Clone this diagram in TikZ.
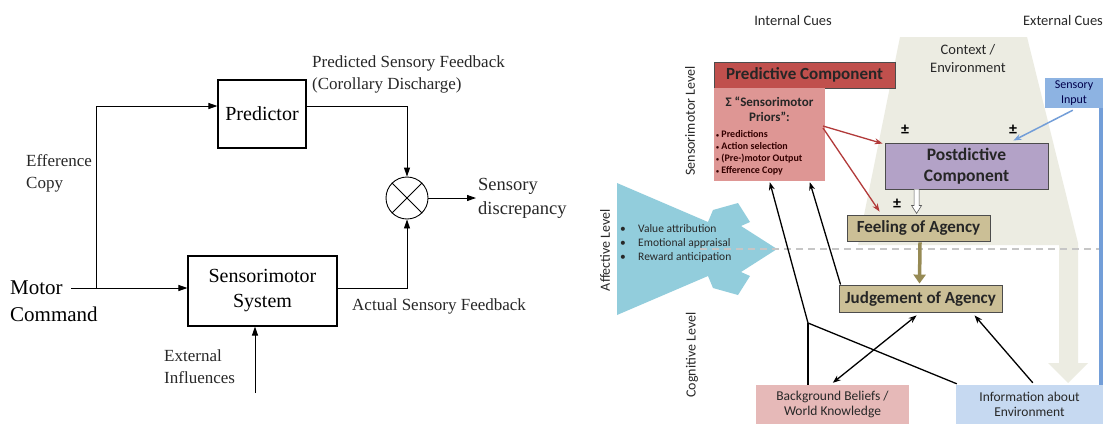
\documentclass[tikz,border=0pt]{standalone}
\usepackage{fontspec}
\setmainfont{Liberation Serif}
\newfontfamily\crl{Carlito}
\usetikzlibrary{arrows.meta,calc}
\definecolor{predred}{RGB}{192,80,77}
\definecolor{prirose}{RGB}{222,150,148}
\definecolor{postlav}{RGB}{179,162,199}
\definecolor{agtan}{RGB}{203,191,150}
\definecolor{bbpink}{RGB}{230,185,184}
\definecolor{infoblue}{RGB}{198,217,241}
\definecolor{sinblue}{RGB}{141,179,226}
\definecolor{sinline}{RGB}{115,158,216}
\definecolor{redarr}{RGB}{178,58,58}
\definecolor{olivearr}{RGB}{150,138,84}
\definecolor{ctxbeige}{RGB}{236,236,226}
\definecolor{afblue}{RGB}{146,205,220}
\definecolor{txtdark}{RGB}{40,40,40}
\begin{document}
\begin{tikzpicture}[x=1pt,y=-1pt,
  lbox/.style={draw, line width=1.1pt, font=\fontsize{20}{25}\selectfont, align=center, inner sep=0pt},
  llab/.style={font=\fontsize{17}{22}\selectfont, align=left, inner sep=0pt, text=txtdark},
  larr/.style={line width=0.9pt, -{Triangle[length=9pt,width=6pt]}},
  rbox/.style={draw=black!70, line width=0.9pt, font=\crl\bfseries\fontsize{17}{20}\selectfont, align=center, inner sep=0pt, text=black!85},
  rlab/.style={font=\crl\fontsize{14.5}{17}\selectfont, text=txtdark, inner sep=0pt, align=center},
  lvl/.style={rlab, rotate=90, font=\crl\fontsize{14}{16}\selectfont},
  blk/.style={line width=1.3pt, black},
  blkarr/.style={blk, -{Stealth[length=8pt,width=6pt]}},
  redline/.style={line width=1.3pt, redarr, -{Stealth[length=8pt,width=6pt]}},
  pm/.style={font=\crl\bfseries\fontsize{16}{16}\selectfont, inner sep=0pt}
]
\useasboundingbox (0,0) rectangle (1107,424);
\fill[white] (0,0) rectangle (1107,424);

% ================= LEFT DIAGRAM =================
\node[lbox, minimum width=88pt, minimum height=68pt] (pred) at (262,114) {Predictor};
\node[lbox, minimum width=149pt, minimum height=70pt] (sms) at (262.5,291) {Sensorimotor\\System};
\node[draw, circle, line width=0.9pt, minimum size=42pt, inner sep=0pt] (circ) at (407,198) {};
\draw[line width=0.9pt] (circ.north west) -- (circ.south east);
\draw[line width=0.9pt] (circ.north east) -- (circ.south west);

\node[anchor=west, inner sep=0pt, align=left, font=\fontsize{21}{27}\selectfont] (mc) at (10,301) {Motor\\Command};
\node[llab, anchor=west] (eff) at (26,173) {Efference\\Copy};
\node[llab, anchor=north west] (psf) at (312,55) {Predicted Sensory Feedback\\(Corollary Discharge)};
\node[llab, anchor=north west] (asf) at (352,298) {Actual Sensory Feedback};
\node[llab, anchor=west, font=\fontsize{18.5}{24}\selectfont] (sdl) at (478,198) {Sensory\\discrepancy};
\node[llab, anchor=west] (ext) at (164,367) {External\\Influences};

\coordinate (mcout) at (71,288);
\coordinate (ej) at (96,288);
\coordinate (pin) at (0,106);
\coordinate (extin) at (255,393);

\draw[larr] (mcout) -- (sms.west |- mcout);
\draw[larr] (ej) |- (pred.west |- pin);
\draw[larr] (pred.east |- pin) -| (circ.north);
\draw[larr] (sms.east |- mcout) -| (circ.south);
\draw[larr] (circ.east) -- ([xshift=-2pt]sdl.west);
\draw[larr] (extin) -- (sms.south -| extin);

% ================= RIGHT DIAGRAM =================
% context / environment beige shape
\fill[ctxbeige] (900,37) -- (1027,37) -- (1078,243) -- (1078,363) -- (1088,363) -- (1068,383)
  -- (1048,363) -- (1059,363) -- (1059,245) -- (858,245) -- cycle;
\node[rlab, font=\crl\fontsize{14.5}{18}\selectfont] (ctx) at (968,59) {Context /\\Environment};

% affective blue shape
\fill[afblue] (617,183) -- (708,222) -- (713,210) -- (738,203) -- (750,222) -- (741,226) -- (777,249)
  -- (741,272) -- (750,276) -- (738,295) -- (713,288) -- (708,276) -- (617,315) -- cycle;

% dashed level separator
\draw[gray!45, line width=1.2pt, dash pattern=on 7pt off 5pt] (700,249) -- (1107,249);

\node[font=\crl\fontsize{11.5}{14}\selectfont, text=txtdark, align=left, inner sep=0pt, anchor=west] (afl) at (620,243)
  {\makebox[18pt][l]{•}Value attribution\\\makebox[18pt][l]{•}Emotional appraisal\\\makebox[18pt][l]{•}Reward anticipation};

% headers and level labels
\node[rlab] (ic) at (793,21) {Internal Cues};
\node[rlab] (ec) at (1063,21) {External Cues};
\node[lvl] (sml) at (690,121) {Sensorimotor Level};
\node[lvl] (afv) at (605,250) {Affective Level};
\node[lvl] (cgl) at (692,355) {Cognitive Level};

% sensory input
\node[fill=sinblue, minimum width=58pt, minimum height=30pt, inner sep=0pt, font=\crl\fontsize{12}{15}\selectfont, text=black!70!blue, align=center] (si) at (1074,93) {Sensory\\Input};
\draw[sinline, line width=3.5pt] (si.south east) ++(-2,0) coordinate (sil) -- (sil |- 0,386) coordinate (silend);

% boxes
\node[rbox, fill=predred, minimum width=181pt, minimum height=26pt] (pc) at (804.5,75) {Predictive Component};
\node[fill=prirose, minimum width=111pt, minimum height=93pt, inner sep=0pt] (pri) at (769.5,134.5) {};
\node[font=\crl\bfseries\fontsize{13}{15}\selectfont, align=center, inner sep=0pt, text=black!85] (prih) at (769.5,109.5) {Σ “Sensorimotor\\Priors”:};
\node[font=\crl\bfseries\fontsize{10}{12}\selectfont, align=left, inner sep=0pt, anchor=north west, text=black!80!red] (pril) at (716,130)
  {{\fontsize{6}{6}\selectfont•} Predictions\\{\fontsize{6}{6}\selectfont•} Action selection\\{\fontsize{6}{6}\selectfont•} (Pre-)motor Output\\{\fontsize{6}{6}\selectfont•} Efference Copy};

\node[rbox, fill=postlav, minimum width=163pt, minimum height=46pt, font=\crl\bfseries\fontsize{17.5}{21}\selectfont] (post) at (966.5,166) {Postdictive\\Component};
\node[rbox, fill=agtan, minimum width=143pt, minimum height=26pt] (feel) at (918.5,228) {Feeling of Agency};
\node[rbox, fill=agtan, minimum width=163pt, minimum height=27pt] (judge) at (920.5,298.5) {Judgement of Agency};

\node[fill=bbpink, minimum width=153pt, minimum height=39pt, inner sep=0pt, font=\crl\fontsize{13.5}{15}\selectfont, align=center, text=txtdark] (bb) at (832.5,404.5) {Background Beliefs /\\World Knowledge};
\node[fill=infoblue, minimum width=147pt, minimum height=39pt, inner sep=0pt, font=\crl\fontsize{13.5}{15}\selectfont, align=center, text=txtdark] (info) at (1029.5,404.5) {Information about\\Environment};

% pm signs
\node[pm] (pm1) at (905,130) {±};
\node[pm] (pm2) at (1013,130) {±};
\node[pm] (pm3) at (897,204) {±};

% hollow arrow post -> feel
\draw[gray!70!black, fill=white, line width=0.6pt]
  ($(post.south west)+(29.5,0)$) -- ($(post.south west)+(29.5,16)$) -- ($(post.south west)+(27,16)$)
  -- ($(post.south west)+(32,24)$) -- ($(post.south west)+(37,16)$) -- ($(post.south west)+(34.5,16)$)
  -- ($(post.south west)+(34.5,0)$);

% olive arrow feel -> judge
\draw[olivearr, line width=3.5pt, -{Triangle[length=9pt,width=12pt]}] ($(feel.south)+(1.5,1)$) -- ($(judge.north)+(-1,-1)$);

% red arrows
\coordinate (prr) at (823,126);
\draw[redline] (prr) -- ($(post.north west)+(-2,1)$);
\draw[redline] ($(prr)+(0,2)$) -- ($(feel.north west)+(33,-3)$);

% sensory input arrow
\draw[sinline, line width=1.5pt, -{Stealth[length=8pt,width=6pt]}] ($(si.south west)+(28,2)$) -- ($(post.north east)+(-35,-2)$);

% black arrows
\coordinate (J) at (808,323);
\draw[blk] (J |- bb.north) -- (J);
\draw[blkarr] ($(info.north west)+(1,-1)$) -- (J) -- ($(pri.south west)+(56,1)$);
\draw[blkarr] ($(judge.north west)+(2,0)$) -- ($(pri.south west)+(96,1)$);
\draw[blk, {Stealth[length=8pt,width=6pt]}-{Stealth[length=8pt,width=6pt]}] ($(bb.north west)+(77,-2)$) -- ($(judge.south west)+(78,3)$);
\draw[blkarr] ($(info.north west)+(77,-2)$) -- ($(judge.south west)+(136,3)$);

\end{tikzpicture}
\end{document}
